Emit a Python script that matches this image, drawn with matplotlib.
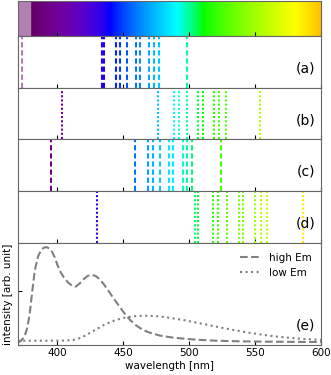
import numpy as np
from matplotlib import pyplot as plt

# line positions (nm) for the four panels
lines_a = [373.5, 433.9, 435.4, 444.2, 447.5, 452.6, 459.4, 462.7, 469.7, 473.3, 477.0, 498.0]
lines_b = [403.8, 476.0, 488.4, 492.0, 498.0, 506.4, 510.2, 519.0, 522.5, 527.5, 553.6]
lines_c = [395.5, 458.5, 469.0, 472.5, 477.5, 484.5, 488.0, 495.0, 498.5, 502.0, 524.0]
lines_d = [430.0, 504.3, 506.4, 518.0, 522.0, 528.5, 537.3, 541.0, 549.8, 554.0, 558.6, 586.0]

# emission spectra
high_wl = [370, 372.5, 375, 377, 379, 381, 383, 385.5, 388, 390, 392, 394, 396, 398, 400, 402,
           405, 408, 411, 414, 417, 420, 423, 426, 429, 432, 435, 438, 441, 445, 450, 455,
           460, 465, 470, 478, 486, 495, 505, 520, 540, 560, 580, 600]
high_em = [0.02, 0.04, 0.075, 0.15, 0.28, 0.50, 0.70, 0.83, 0.89, 0.91, 0.913, 0.90, 0.87,
           0.82, 0.75, 0.69, 0.63, 0.585, 0.555, 0.545, 0.575, 0.615, 0.645, 0.655, 0.645,
           0.615, 0.57, 0.52, 0.465, 0.395, 0.31, 0.235, 0.18, 0.14, 0.115, 0.087, 0.072,
           0.06, 0.05, 0.04, 0.034, 0.031, 0.029, 0.028]
low_wl = [370, 380, 395, 405, 412, 416, 420, 425, 430, 435, 440, 445, 450, 456, 462, 468,
          474, 480, 488, 496, 505, 515, 525, 535, 545, 555, 565, 575, 585, 600]
low_em = [0.04, 0.04, 0.04, 0.041, 0.046, 0.06, 0.08, 0.115, 0.15, 0.185, 0.213, 0.235,
          0.252, 0.265, 0.272, 0.273, 0.27, 0.263, 0.248, 0.232, 0.21, 0.185, 0.16, 0.137,
          0.115, 0.097, 0.08, 0.068, 0.058, 0.047]


def wavelength_to_rgb(wavelength, gamma=0.8):
    wavelength = float(wavelength)
    A = 1. if 380 <= wavelength <= 750 else 0.5
    wavelength = min(max(wavelength, 380.), 750.)
    if wavelength <= 440:
        att = 0.3 + 0.7 * (wavelength - 380) / (440 - 380)
        R = ((-(wavelength - 440) / (440 - 380)) * att) ** gamma
        G = 0.0
        B = (1.0 * att) ** gamma
    elif wavelength <= 490:
        R = 0.0
        G = ((wavelength - 440) / (490 - 440)) ** gamma
        B = 1.0
    elif wavelength <= 510:
        R = 0.0
        G = 1.0
        B = (-(wavelength - 510) / (510 - 490)) ** gamma
    elif wavelength <= 580:
        R = ((wavelength - 510) / (580 - 510)) ** gamma
        G = 1.0
        B = 0.0
    elif wavelength <= 645:
        R = 1.0
        G = (-(wavelength - 645) / (645 - 580)) ** gamma
        B = 0.0
    else:
        att = 0.3 + 0.7 * (750 - wavelength) / (750 - 645)
        R = (1.0 * att) ** gamma
        G = 0.0
        B = 0.0
    return (R, G, B, A)


plt.rcParams['font.size'] = 7.5
figure = plt.figure(figsize=(3.31, 3.75), dpi=100)
gs = figure.add_gridspec(6, 1, height_ratios=[35, 52, 52, 52, 52, 102], hspace=0,
                         left=0.0535, right=0.9707, top=0.998, bottom=0.08)
axes = [figure.add_subplot(gs[i]) for i in range(6)]

spec = np.linspace(370, 600, 461)
img = np.array([[wavelength_to_rgb(w) for w in spec]])
axes[0].imshow(img, extent=[370, 600, 0, 1], aspect='auto')

styles = [(0, (2.5, 1.4)), (0, (1, 1)), (0, (2.5, 1.4)), (0, (1, 1))]
for ax, pos, ls in zip(axes[1:5], [lines_a, lines_b, lines_c, lines_d], styles):
    for w in pos:
        ax.axvline(w, color=wavelength_to_rgb(w), ls=ls, lw=1.5)

axes[5].plot(high_wl, high_em, ls='--', color='gray', lw=1.5, label='high Em')
axes[5].plot(low_wl, low_em, ls=':', color='gray', lw=1.5, label='low Em')
axes[5].set_ylim(0, 0.95)
axes[5].set_yticks([0, 0.5])
axes[5].set_yticklabels([])
axes[5].set_ylabel('intensity [arb. unit]', labelpad=1.5)
axes[5].set_xlabel('wavelength [nm]', labelpad=2)
axes[5].legend(loc='upper right', frameon=False)

for i, ax in enumerate(axes):
    ax.set_xlim(370, 600)
    ax.set_xticks([400, 450, 500, 550, 600])
    ax.tick_params(direction='in', length=3, width=0.8, pad=2)
    for s in ax.spines.values():
        s.set_color('0.4')
    if i < 5:
        ax.set_yticks([])
        ax.set_xticklabels([])
    if i > 0:
        ax.annotate('(%s)' % 'abcde'[i - 1], xy=(1, 0), xycoords='axes fraction',
                    xytext=(-4.5, 14), textcoords='offset points',
                    ha='right', va='center', fontsize=10)

plt.savefig('out.png', dpi=100)
